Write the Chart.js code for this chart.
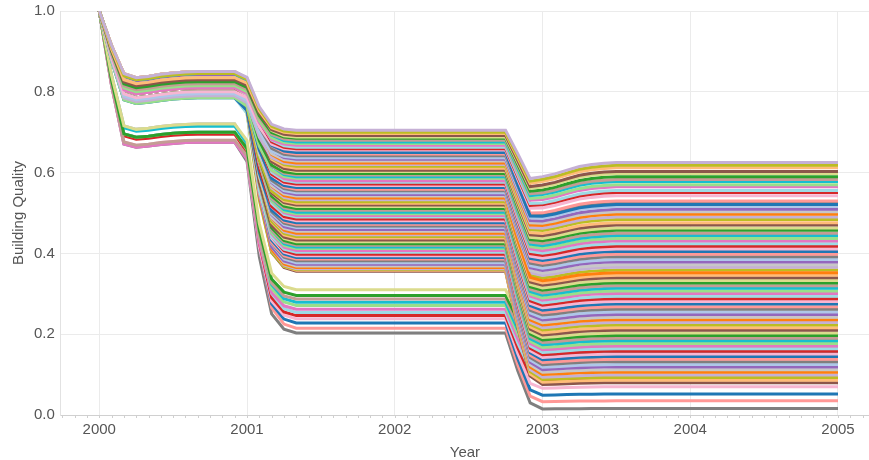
<!DOCTYPE html>
<html>
<head>
<meta charset="utf-8">
<script src="https://cdn.jsdelivr.net/npm/chart.js@4.4.0/dist/chart.umd.min.js"></script>
<style>
	html, body { margin: 0; background: #fff; }
	#wrap { width: 869px; height: 460px; }
</style>
</head>
<body>
<div id="wrap"><canvas id="qualityChart"></canvas></div>
<script>
// tick labels
const years = [2000, 2001, 2002, 2003, 2004, 2005];
const qualityTicks = [0, 0.2, 0.4, 0.6, 0.8, 1.0];

// plateau reached after the first drop (2000)
const level2000 = [
	0.85, 0.845, 0.835, 0.83, 0.85, 0.825, 0.82, 0.845, 0.815, 0.81,
	0.835, 0.83, 0.80, 0.825, 0.85, 0.82, 0.795, 0.845, 0.81, 0.835,
	0.79, 0.825, 0.83, 0.815, 0.85, 0.80, 0.82, 0.845, 0.785, 0.835,
	0.825, 0.81, 0.83, 0.795, 0.85, 0.815, 0.82, 0.84, 0.80, 0.835,
	0.825, 0.79, 0.83, 0.81, 0.845, 0.82, 0.795, 0.835, 0.815, 0.85,
	0.825, 0.80, 0.83, 0.785, 0.84, 0.82, 0.81, 0.835, 0.795, 0.825,
	0.85, 0.815, 0.83, 0.79, 0.845, 0.82, 0.80, 0.835, 0.81, 0.825,
	0.785, 0.84, 0.83, 0.815, 0.795, 0.82, 0.85, 0.80, 0.835, 0.81,
	0.825, 0.79, 0.845, 0.82,
	0.72, 0.70, 0.68, 0.715, 0.70, 0.675, 0.72, 0.695, 0.68, 0.70, 0.72, 0.675
];

// plateau after the 2001 drop
const level2001 = [
	0.705, 0.700, 0.697, 0.692, 0.688, 0.685, 0.680, 0.676, 0.672, 0.668,
	0.663, 0.659, 0.656, 0.650, 0.646, 0.642, 0.637, 0.633, 0.629, 0.624,
	0.620, 0.616, 0.611, 0.606, 0.603, 0.598, 0.594, 0.590, 0.586, 0.580,
	0.576, 0.572, 0.568, 0.563, 0.559, 0.555, 0.550, 0.546, 0.542, 0.537,
	0.533, 0.528, 0.524, 0.520, 0.516, 0.511, 0.507, 0.502, 0.498, 0.494,
	0.490, 0.485, 0.481, 0.476, 0.472, 0.468, 0.464, 0.459, 0.455, 0.450,
	0.446, 0.442, 0.438, 0.433, 0.429, 0.424, 0.420, 0.416, 0.412, 0.407,
	0.403, 0.398, 0.394, 0.390, 0.386, 0.382, 0.377, 0.373, 0.369, 0.365,
	0.362, 0.360, 0.358, 0.356,
	0.310, 0.296, 0.287, 0.279, 0.271, 0.262, 0.254, 0.246, 0.238, 0.228, 0.215, 0.203
];

// plateau after the 2003 drop
const level2003 = [
	0.625, 0.618, 0.612, 0.603, 0.598, 0.590, 0.583, 0.578, 0.570, 0.565,
	0.556, 0.551, 0.543, 0.521, 0.530, 0.524, 0.516, 0.509, 0.503, 0.497,
	0.490, 0.484, 0.476, 0.470, 0.463, 0.457, 0.450, 0.444, 0.437, 0.431,
	0.424, 0.418, 0.411, 0.405, 0.398, 0.392, 0.385, 0.379, 0.372, 0.352,
	0.366, 0.359, 0.346, 0.340, 0.333, 0.327, 0.320, 0.314, 0.307, 0.301,
	0.294, 0.288, 0.281, 0.275, 0.268, 0.262, 0.255, 0.249, 0.242, 0.236,
	0.229, 0.223, 0.216, 0.210, 0.203, 0.197, 0.190, 0.184, 0.177, 0.171,
	0.164, 0.158, 0.151, 0.145, 0.138, 0.132, 0.125, 0.119, 0.112, 0.106,
	0.099, 0.093, 0.086, 0.080,
	0.200, 0.185, 0.168, 0.152, 0.140, 0.122, 0.108, 0.092, 0.070, 0.052, 0.035, 0.016
];

// shape of each drop, month by month (fraction of the way to the new plateau)
const drop2000 = [0, 0.57, 1];          // from Jan 2000
const dip2000 = [0, 0, 0.006, 0.018, 0.014, 0.008, 0.004, 0.001];
const drop2001 = [0, 0.1, 0.6, 0.9, 0.98]; // from Dec 2000
const drop2003 = [0, 0.5, 0.92];        // from Oct 2002
const dip2003 = [0, 0.03, 0.074, 0.056, 0.045, 0.03, 0.016, 0.008, 0.003];

const palette = [
	"#1f77b4", "#aec7e8", "#ff7f0e", "#ffbb78", "#2ca02c", "#98df8a",
	"#d62728", "#ff9896", "#9467bd", "#c5b0d5", "#8c564b", "#c49c94",
	"#e377c2", "#f7b6d2", "#7f7f7f", "#c7c7c7", "#bcbd22", "#dbdb8d",
	"#17becf", "#9edae5"
];

function step(arr, j) { return j < arr.length ? arr[j] : 1; }
function dip(arr, j) { return j < arr.length ? arr[j] : 0; }

function buildSeries(i) {
	const a = level2000[i], b = level2001[i], c = level2003[i];
	const pts = [];
	for (let k = 0; k <= 60; k++) {
		let v;
		if (k < 11) {
			v = 1 - step(drop2000, k) * (1 - a) - dip(dip2000, k) * a;
		} else if (k < 33) {
			v = a + step(drop2001, k - 11) * (b - a);
		} else {
			v = b + step(drop2003, k - 33) * (c - b) - dip(dip2003, k - 33) * c;
		}
		pts.push({ x: 2000 + k / 12, y: v });
	}
	return pts;
}

const datasets = level2000.map((_, i) => ({
	data: buildSeries(i),
	borderColor: palette[(i * 7 + 9) % 20],
	borderWidth: 3,
	pointRadius: 0,
	tension: 0,
	fill: false,
}));

const minorTicks = {
	id: "minorTicks",
	afterDraw(chart) {
		const xs = chart.scales.x, ys = chart.scales.y, ctx = chart.ctx;
		ctx.save();
		ctx.strokeStyle = "#cfcfcf";
		ctx.lineWidth = 1;
		const k0 = Math.ceil((xs.min - 2000) * 12), k1 = Math.floor((xs.max - 2000) * 12);
		for (let k = k0; k <= k1; k++) {
			const px = Math.round(xs.getPixelForValue(2000 + k / 12)) + 0.5;
			ctx.beginPath();
			ctx.moveTo(px, ys.bottom);
			ctx.lineTo(px, ys.bottom + 3);
			ctx.stroke();
		}
		ctx.restore();
	},
};

const font = { family: "'Liberation Sans', Arial, sans-serif", size: 15 };

new Chart(document.getElementById("qualityChart").getContext("2d"), {
	type: "line",
	data: { datasets: datasets },
	options: {
		responsive: true,
		maintainAspectRatio: false,
		animation: false,
		layout: { padding: { left: 3, right: 0, top: 11, bottom: 0 } },
		plugins: {
			legend: { display: false },
			tooltip: { enabled: false },
		},
		scales: {
			x: {
				type: "linear",
				min: 1999.74,
				max: 2005.21,
				afterBuildTicks: (axis) => { axis.ticks = years.map((v) => ({ value: v })); },
				ticks: {
					callback: (v) => String(v),
					color: "#555",
					font: font,
					padding: 6,
					maxRotation: 0,
					autoSkip: false,
				},
				grid: { color: "#ebebeb", drawTicks: false },
				border: { color: "#d0d0d0" },
				title: {
					display: true, text: "Year", color: "#555",
					font: { family: font.family, size: 15, lineHeight: 1 },
					padding: { top: 0, bottom: 0 },
				},
			},
			y: {
				min: 0,
				max: 1,
				afterBuildTicks: (axis) => { axis.ticks = qualityTicks.map((v) => ({ value: v })); },
				afterFit: (axis) => { axis.paddingTop = 0; },
				ticks: {
					callback: (v) => v.toFixed(1),
					color: "#555",
					font: font,
					padding: 6,
				},
				grid: { color: "#ebebeb", drawTicks: false },
				border: { color: "#e2e2e2" },
				title: { display: true, text: "Building Quality", color: "#555", font: font, padding: { top: 7, bottom: 0 } },
			},
		},
	},
	plugins: [minorTicks],
});
</script>
</body>
</html>
